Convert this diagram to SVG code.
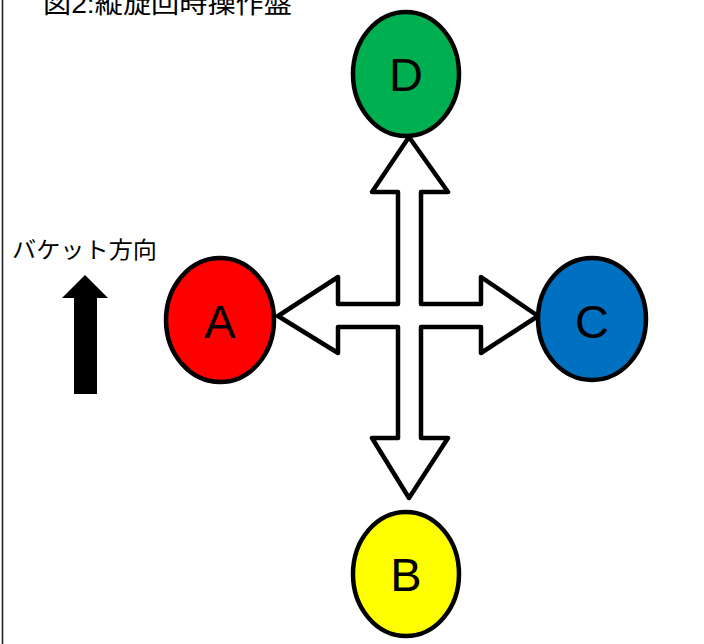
<svg xmlns="http://www.w3.org/2000/svg" width="704" height="644" viewBox="0 0 704 644">
<style>
.node ellipse{stroke:#000;stroke-width:4.5}
.lbl{font-family:"Liberation Sans",Arial,sans-serif;font-size:47px;fill:#000;text-anchor:middle}
.jp{font-family:"Liberation Sans","Noto Sans CJK JP",sans-serif;fill:#000}
.cross{fill:#fff;stroke:#000;stroke-width:4.5;stroke-linejoin:round}
</style>
<rect x="0" y="0" width="704" height="644" fill="#fff"/>
<line x1="2.5" y1="0" x2="2.5" y2="644" stroke="#222" stroke-width="1.6"/>
<text class="jp" x="43" y="13" font-size="26" textLength="249" lengthAdjust="spacingAndGlyphs">図2:縦旋回時操作盤</text>
<text class="jp" x="12" y="258" font-size="23" textLength="145" lengthAdjust="spacingAndGlyphs">バケット方向</text>
<g id="bucket-arrow">
<polygon points="85,275 108,298 97,298 97,394 74,394 74,298 62,298" fill="#000"/>
</g>
<g id="connectors">
<polygon class="cross" points="409,137 448,192 421,192 421,304 481,304 481,277 538,316 481,353 481,327 421,327 421,438 448,438 409,498 372,438 398,438 398,327 338,327 338,353 278,316 338,277 338,304 398,304 398,192 372,192"/>
</g>
<g id="node-D" class="node">
<ellipse cx="406" cy="74" rx="53" ry="62" fill="#00B050"/>
<text class="lbl" x="406" y="91">D</text>
</g>
<g id="node-A" class="node">
<ellipse cx="220" cy="320" rx="54" ry="62" fill="#FF0000"/>
<text class="lbl" x="220" y="338">A</text>
</g>
<g id="node-C" class="node">
<ellipse cx="592" cy="319" rx="54" ry="61" fill="#0070C0"/>
<text class="lbl" x="592" y="338">C</text>
</g>
<g id="node-B" class="node">
<ellipse cx="406" cy="574" rx="53" ry="62" fill="#FFFF00"/>
<text class="lbl" x="406" y="591">B</text>
</g>
</svg>
